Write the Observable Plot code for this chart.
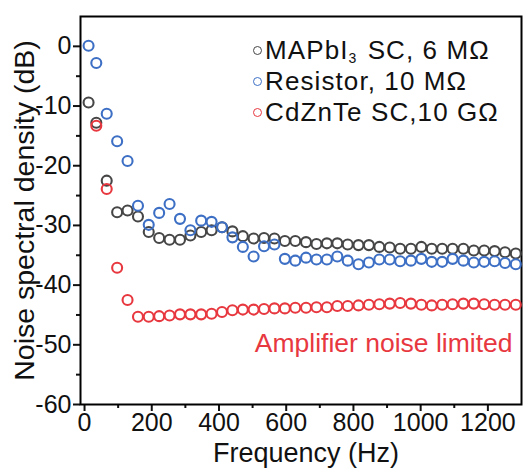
<!DOCTYPE html>
<html>
<head>
<meta charset="utf-8">
<script src="https://cdn.jsdelivr.net/npm/d3@7"></script>
<script src="https://cdn.jsdelivr.net/npm/@observablehq/plot@0.6"></script>
<style>
  html, body { margin: 0; padding: 0; background: #fff; }
  body { font-family: "Liberation Sans", Arial, sans-serif; }
  #wrap { position: relative; width: 523px; height: 468px; }
  #legend { position: absolute; left: 253px; top: 35px; font-size: 26px; line-height: 31px; color: #111; letter-spacing: 1.1px; }
  #legend .row { display: flex; align-items: center; height: 31px; white-space: nowrap; }
  #legend .sw { display: inline-block; box-sizing: border-box; width: 9px; height: 9px; border-radius: 50%; border: 1.8px solid; margin-right: 3px; }
  #legend sub { font-size: 14px; vertical-align: -4px; line-height: 0; margin-right: 3px; letter-spacing: 0; }
</style>
</head>
<body>
<div id="wrap"></div>
<script>
// ---- data ----
const frequencies = [12, 35, 66, 97, 128, 159, 191, 222, 253, 284, 315, 347, 378, 409, 440, 471, 503, 534, 565, 596, 627, 659, 690, 721, 752, 783, 815, 846, 877, 908, 939, 971, 1002, 1033, 1064, 1095, 1127, 1158, 1189, 1220, 1251, 1283];

const mapbiValues = [-9.4, -12.8, -22.5, -27.8, -27.5, -28.5, -31.1, -32.1, -32.4, -32.4, -31.7, -31.1, -30.8, -30.3, -31.0, -31.8, -32.2, -32.1, -32.2, -32.6, -32.6, -32.8, -33.1, -33.0, -33.0, -33.2, -33.3, -33.3, -33.6, -33.7, -33.9, -33.9, -33.6, -33.9, -33.9, -33.9, -33.9, -34.2, -34.2, -34.3, -34.5, -34.7];

const resistorValues = [0.1, -2.8, -11.3, -15.9, -19.2, -26.7, -29.9, -27.9, -26.4, -28.9, -30.8, -29.2, -29.4, -30.3, -32.0, -33.6, -35.2, -33.5, -33.2, -35.6, -35.9, -35.4, -35.7, -35.7, -35.2, -35.9, -36.5, -36.2, -35.7, -35.7, -36.0, -35.9, -35.6, -36.1, -36.1, -35.6, -35.9, -36.2, -36.1, -36.0, -36.3, -36.5];

const cdzntValues = [null, -13.3, -23.9, -37.1, -42.5, -45.3, -45.3, -45.2, -45.1, -44.9, -44.9, -44.9, -44.8, -44.5, -44.2, -44.1, -44.1, -44.0, -43.9, -43.9, -43.8, -43.8, -43.7, -43.7, -43.5, -43.5, -43.4, -43.3, -43.2, -43.1, -43.0, -43.1, -43.3, -43.4, -43.3, -43.2, -43.1, -43.1, -43.2, -43.3, -43.3, -43.3];

const seriesNames = ["MAPbI3 SC, 6 MΩ", "Resistor, 10 MΩ", "CdZnTe SC,10 GΩ"];
const seriesColors = ["#464646", "#3d6fc5", "#e8383f"];

const xMajorTicks = [0, 200, 400, 600, 800, 1000, 1200];
const xMinorTicks = [100, 300, 500, 700, 900, 1100];
const yMajorTicks = [0, -10, -20, -30, -40, -50, -60];
const yMinorTicks = [-5, -15, -25, -35, -45, -55];

const xLabel = "Frequency (Hz)";
const yLabel = "Noise spectral density (dB)";
const annotation = "Amplifier noise limited";

// ---- tables ----
const toTable = vals => frequencies.map((f, i) => ({f, v: vals[i]}));
const mapbi = toTable(mapbiValues);
const resistor = toTable(resistorValues);
const cdznt = toTable(cdzntValues);

const font = '"Liberation Sans", Arial, sans-serif';
const dotOpts = (c) => ({x: "f", y: "v", r: 5, stroke: c, strokeWidth: 2.1, fill: "none"});

const chart = Plot.plot({
  width: 523,
  height: 468,
  marginLeft: 80,
  marginRight: 2,
  marginTop: 16,
  marginBottom: 64,
  style: {fontFamily: font, fontSize: "25px", color: "#111", background: "transparent", overflow: "visible"},
  x: {domain: [-12, 1300]},
  y: {domain: [-60, 5]},
  marks: [
    Plot.axisX(xMajorTicks, {tickSize: 7, tickPadding: 2, strokeWidth: 2, tickFormat: d => String(d), label: null, fontSize: 25}),
    Plot.axisX(xMinorTicks, {tickSize: 4, strokeWidth: 2, tickFormat: () => "", label: null}),
    Plot.axisY(yMajorTicks, {tickSize: 7, tickPadding: 2, strokeWidth: 2, tickFormat: d => String(d), label: null, fontSize: 25}),
    Plot.axisY(yMinorTicks, {tickSize: 4, strokeWidth: 2, tickFormat: () => "", label: null}),
    Plot.frame({stroke: "#000", strokeWidth: 2}),
    Plot.dot(mapbi, dotOpts(seriesColors[0])),
    Plot.dot(resistor, dotOpts(seriesColors[1])),
    Plot.dot(cdznt, dotOpts(seriesColors[2])),
    Plot.text([xLabel], {frameAnchor: "bottom", dy: 49, dx: 5, textAnchor: "middle", lineAnchor: "middle", fontSize: 27, fill: "#111"}),
    Plot.text([yLabel], {frameAnchor: "left", rotate: -90, dx: -56, textAnchor: "middle", lineAnchor: "middle", fontSize: 28.5, fill: "#111"}),
    Plot.text([annotation], {frameAnchor: "bottom-right", textAnchor: "end", dx: -9, dy: -61, lineAnchor: "middle", fontSize: 26.5, fill: seriesColors[2]})
  ]
});

const wrap = document.getElementById("wrap");
wrap.appendChild(chart);

// legend (HTML overlay)
const legend = document.createElement("div");
legend.id = "legend";
seriesNames.forEach((name, i) => {
  const row = document.createElement("div");
  row.className = "row";
  const sw = document.createElement("span");
  sw.className = "sw";
  sw.style.borderColor = seriesColors[i];
  row.appendChild(sw);
  const label = document.createElement("span");
  if (name.startsWith("MAPbI3")) {
    label.innerHTML = "MAPbI<sub>3</sub>" + name.slice(6);
  } else {
    label.textContent = name;
  }
  row.appendChild(label);
  legend.appendChild(row);
});
wrap.appendChild(legend);
</script>
</body>
</html>
